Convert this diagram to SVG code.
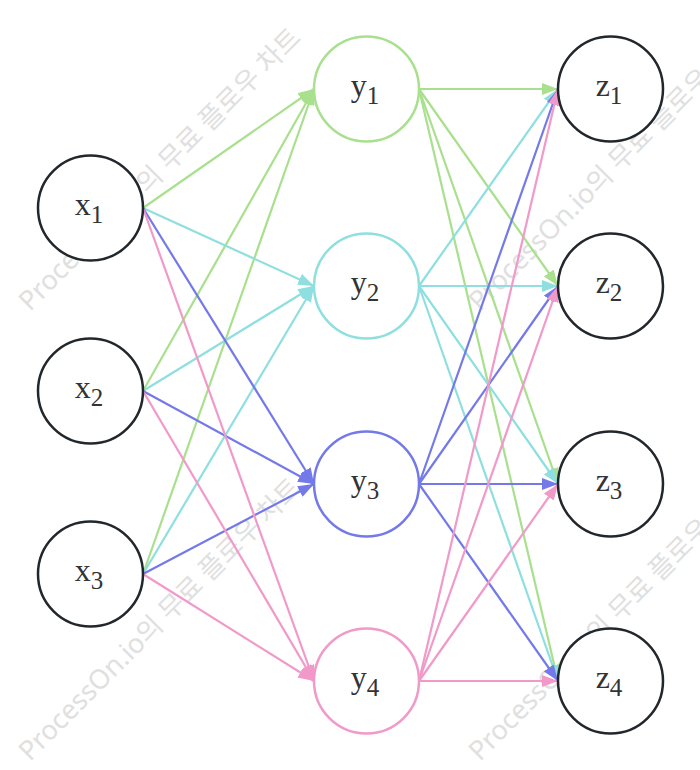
<svg xmlns="http://www.w3.org/2000/svg" width="700" height="770" viewBox="0 0 700 770">
<style>
.wm{font-family:"Noto Sans","Noto Sans CJK KR",sans-serif;font-size:27px;fill:#e0e0e0}
.e{fill:none;stroke-width:2.2}
.g{stroke:#a9e08e}.c{stroke:#8fdfe0}.b{stroke:#7479ea}.p{stroke:#f199c9}
.n{fill:#fff;stroke-width:2.5}
.k{stroke:#22272c}
.lbl{font-family:"Liberation Serif","Times New Roman",serif;font-size:32px;fill:#333;text-anchor:middle}
.sub{font-size:25px}
</style>
<defs>
<marker id="ag" markerUnits="userSpaceOnUse" markerWidth="16" markerHeight="12" refX="16" refY="6" orient="auto"><path d="M0,0 L16,6 L0,12 z" fill="#a9e08e"/></marker>
<marker id="ac" markerUnits="userSpaceOnUse" markerWidth="16" markerHeight="12" refX="16" refY="6" orient="auto"><path d="M0,0 L16,6 L0,12 z" fill="#8fdfe0"/></marker>
<marker id="ab" markerUnits="userSpaceOnUse" markerWidth="16" markerHeight="12" refX="16" refY="6" orient="auto"><path d="M0,0 L16,6 L0,12 z" fill="#7479ea"/></marker>
<marker id="ap" markerUnits="userSpaceOnUse" markerWidth="16" markerHeight="12" refX="16" refY="6" orient="auto"><path d="M0,0 L16,6 L0,12 z" fill="#f199c9"/></marker>
</defs>
<g id="watermark">
<text class="wm" transform="translate(30,312) rotate(-45)">ProcessOn.io의 무료 플로우 차트</text>
<text class="wm" transform="translate(30,762) rotate(-45)">ProcessOn.io의 무료 플로우 차트</text>
<text class="wm" transform="translate(480,312) rotate(-45)">ProcessOn.io의 무료 플로우 차트</text>
<text class="wm" transform="translate(480,762) rotate(-45)">ProcessOn.io의 무료 플로우 차트</text>
</g>
<g id="connectors">
<line class="e g" x1="143" y1="208" x2="314" y2="89" marker-end="url(#ag)"/>
<line class="e g" x1="143" y1="391" x2="314" y2="89" marker-end="url(#ag)"/>
<line class="e g" x1="143" y1="574" x2="314" y2="89" marker-end="url(#ag)"/>
<line class="e c" x1="143" y1="208" x2="314" y2="286" marker-end="url(#ac)"/>
<line class="e c" x1="143" y1="391" x2="314" y2="286" marker-end="url(#ac)"/>
<line class="e c" x1="143" y1="574" x2="314" y2="286" marker-end="url(#ac)"/>
<line class="e b" x1="143" y1="208" x2="314" y2="484" marker-end="url(#ab)"/>
<line class="e b" x1="143" y1="391" x2="314" y2="484" marker-end="url(#ab)"/>
<line class="e b" x1="143" y1="574" x2="314" y2="484" marker-end="url(#ab)"/>
<line class="e p" x1="143" y1="208" x2="314" y2="681" marker-end="url(#ap)"/>
<line class="e p" x1="143" y1="391" x2="314" y2="681" marker-end="url(#ap)"/>
<line class="e p" x1="143" y1="574" x2="314" y2="681" marker-end="url(#ap)"/>
<line class="e g" x1="419" y1="89" x2="558" y2="89" marker-end="url(#ag)"/>
<line class="e g" x1="419" y1="89" x2="558" y2="286" marker-end="url(#ag)"/>
<line class="e g" x1="419" y1="89" x2="558" y2="484" marker-end="url(#ag)"/>
<line class="e g" x1="419" y1="89" x2="558" y2="681" marker-end="url(#ag)"/>
<line class="e c" x1="419" y1="286" x2="558" y2="89" marker-end="url(#ac)"/>
<line class="e c" x1="419" y1="286" x2="558" y2="286" marker-end="url(#ac)"/>
<line class="e c" x1="419" y1="286" x2="558" y2="484" marker-end="url(#ac)"/>
<line class="e c" x1="419" y1="286" x2="558" y2="681" marker-end="url(#ac)"/>
<line class="e b" x1="419" y1="484" x2="558" y2="89" marker-end="url(#ab)"/>
<line class="e b" x1="419" y1="484" x2="558" y2="286" marker-end="url(#ab)"/>
<line class="e b" x1="419" y1="484" x2="558" y2="484" marker-end="url(#ab)"/>
<line class="e b" x1="419" y1="484" x2="558" y2="681" marker-end="url(#ab)"/>
<line class="e p" x1="419" y1="681" x2="558" y2="89" marker-end="url(#ap)"/>
<line class="e p" x1="419" y1="681" x2="558" y2="286" marker-end="url(#ap)"/>
<line class="e p" x1="419" y1="681" x2="558" y2="484" marker-end="url(#ap)"/>
<line class="e p" x1="419" y1="681" x2="558" y2="681" marker-end="url(#ap)"/>
</g>
<g id="x1"><circle class="n k" cx="90.5" cy="208" r="52.5"/><text class="lbl" x="89" y="215">x<tspan class="sub" dy="8">1</tspan></text></g>
<g id="x2"><circle class="n k" cx="90.5" cy="391" r="52.5"/><text class="lbl" x="89" y="398">x<tspan class="sub" dy="8">2</tspan></text></g>
<g id="x3"><circle class="n k" cx="90.5" cy="574" r="52.5"/><text class="lbl" x="89" y="581">x<tspan class="sub" dy="8">3</tspan></text></g>
<g id="y1"><circle class="n g" cx="366.5" cy="89" r="52.5"/><text class="lbl" x="365" y="96">y<tspan class="sub" dy="8">1</tspan></text></g>
<g id="y2"><circle class="n c" cx="366.5" cy="286" r="52.5"/><text class="lbl" x="365" y="293">y<tspan class="sub" dy="8">2</tspan></text></g>
<g id="y3"><circle class="n b" cx="366.5" cy="484" r="52.5"/><text class="lbl" x="365" y="491">y<tspan class="sub" dy="8">3</tspan></text></g>
<g id="y4"><circle class="n p" cx="366.5" cy="681" r="52.5"/><text class="lbl" x="365" y="688">y<tspan class="sub" dy="8">4</tspan></text></g>
<g id="z1"><circle class="n k" cx="610.5" cy="89" r="52.5"/><text class="lbl" x="609" y="96">z<tspan class="sub" dy="8">1</tspan></text></g>
<g id="z2"><circle class="n k" cx="610.5" cy="286" r="52.5"/><text class="lbl" x="609" y="293">z<tspan class="sub" dy="8">2</tspan></text></g>
<g id="z3"><circle class="n k" cx="610.5" cy="484" r="52.5"/><text class="lbl" x="609" y="491">z<tspan class="sub" dy="8">3</tspan></text></g>
<g id="z4"><circle class="n k" cx="610.5" cy="681" r="52.5"/><text class="lbl" x="609" y="688">z<tspan class="sub" dy="8">4</tspan></text></g>
</svg>
